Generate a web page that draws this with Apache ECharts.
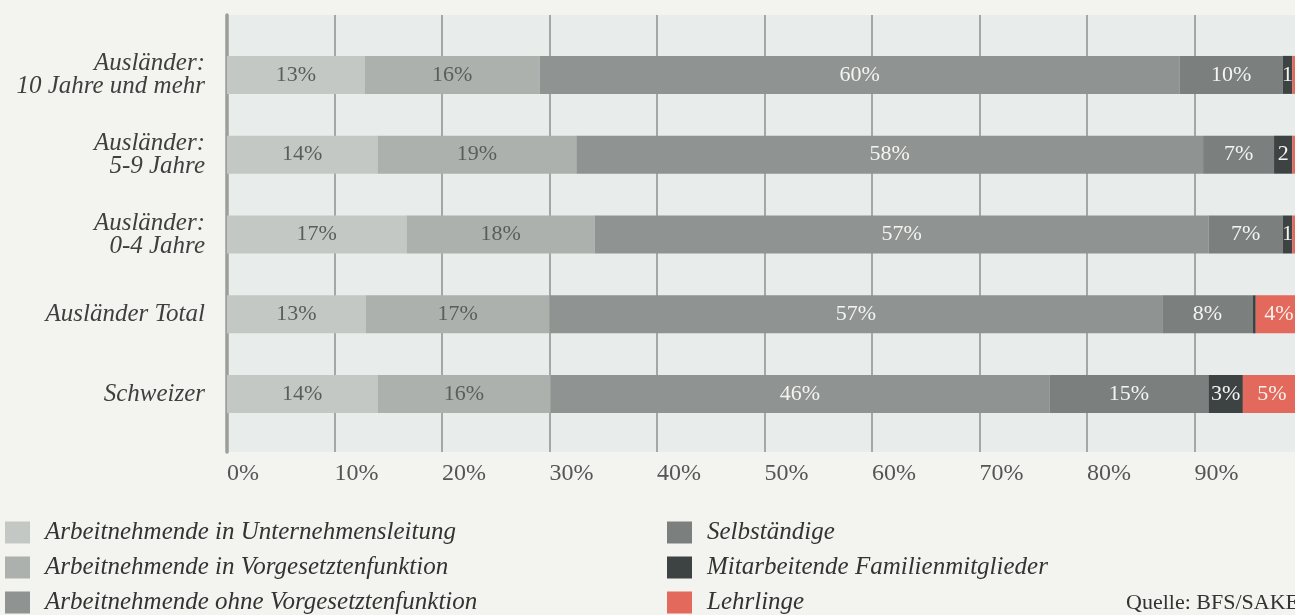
<!DOCTYPE html>
<html>
<head>
<meta charset="utf-8">
<script src="https://cdn.jsdelivr.net/npm/echarts@6/dist/echarts.min.js"></script>
<style>
  html, body { margin: 0; padding: 0; background: #f3f3f0; }
  #chart { width: 1295px; height: 615px; }
</style>
</head>
<body>
<div id="chart"></div>
<script>
// categories, top to bottom
const categories = [
  "Ausländer:\n10 Jahre und mehr",
  "Ausländer:\n5-9 Jahre",
  "Ausländer:\n0-4 Jahre",
  "Ausländer Total",
  "Schweizer",
];
// shares in %
const leitung = [12.8, 14.0, 16.7, 12.9, 14.0];
const vorgesetzte = [16.3, 18.5, 17.5, 17.1, 16.1];
const ohneVorgesetzte = [59.5, 58.3, 57.1, 57.0, 46.4];
const selbstaendige = [9.6, 6.6, 6.9, 8.4, 14.8];
const familie = [0.9, 1.7, 0.9, 0.3, 3.2];
const lehrlinge = [0.9, 0.9, 0.9, 4.3, 5.4];
const xTicks = [0, 100, 10];

const seriesNames = [
  "Arbeitnehmende in Unternehmensleitung",
  "Arbeitnehmende in Vorgesetztenfunktion",
  "Arbeitnehmende ohne Vorgesetztenfunktion",
  "Selbständige",
  "Mitarbeitende Familienmitglieder",
  "Lehrlinge",
];
const seriesData = [leitung, vorgesetzte, ohneVorgesetzte, selbstaendige, familie, lehrlinge];
const colors = ["#c4c8c5", "#adb1ae", "#8f9391", "#7b807e", "#3d4343", "#e2695b"];
const labelColors = ["#5a5d5b", "#5a5d5b", "#f4f4f2", "#f4f4f2", "#f4f4f2", "#f8f0ee"];

const serif = "Liberation Serif";

function pctLabel(minShow) {
  return function (p) {
    const v = p.value;
    if (v < minShow) return "";
    // narrow segments: the % sign is cut off in the original
    if (v < 2.5) return String(Math.round(v));
    return Math.round(v) + "%";
  };
}

// two legend columns, three rows each -> one legend per entry
const legends = seriesNames.map((name, i) => ({
  data: [name],
  left: i < 3 ? 5 : 667,
  top: 520 + (i % 3) * 35,
  padding: 0,
  icon: "rect",
  itemWidth: 25,
  itemHeight: 22,
  selectedMode: false,
  textStyle: {
    fontFamily: serif,
    fontStyle: "italic",
    fontSize: 25,
    color: "#333",
    padding: [0, 0, 0, 10],
  },
}));

const chart = echarts.init(document.getElementById("chart"));

chart.setOption({
  animation: false,
  backgroundColor: "#f3f3f0",
  color: colors,
  grid: [
    // gridlines + tick labels
    {
      left: 227, right: -7, top: 15, bottom: 163,
      outerBoundsMode: "none",
      show: true, backgroundColor: "#e8ecea", borderWidth: 0,
    },
    // bars
    { left: 227, right: -7, top: 35, bottom: 181, outerBoundsMode: "none" },
  ],
  xAxis: [
    {
      gridIndex: 0,
      type: "value",
      min: xTicks[0],
      max: xTicks[1],
      interval: xTicks[2],
      axisLine: { show: false },
      axisTick: { show: false },
      splitLine: { show: true, lineStyle: { color: "#8e918f", width: 1.5 } },
      axisLabel: {
        formatter: "{value}%",
        align: "left",
        margin: 10,
        color: "#555",
        fontFamily: serif,
        fontSize: 24,
      },
    },
    {
      gridIndex: 1,
      type: "value",
      min: xTicks[0],
      max: xTicks[1],
      show: false,
    },
  ],
  yAxis: [
    {
      gridIndex: 0,
      type: "value",
      axisLine: { show: true, lineStyle: { color: "#9c9e9c", width: 3.5 } },
      axisTick: { show: false },
      axisLabel: { show: false },
      splitLine: { show: false },
    },
    {
      gridIndex: 1,
      type: "category",
      inverse: true,
      data: categories,
      axisLine: { show: false },
      axisTick: { show: false },
      axisLabel: {
        margin: 22,
        color: "#3f3f3f",
        fontFamily: serif,
        fontStyle: "italic",
        fontSize: 25,
        lineHeight: 23,
      },
    },
  ],
  legend: legends,
  graphic: [
    {
      type: "text",
      left: 1126,
      top: 592,
      style: { text: "Quelle: BFS/SAKE", font: '22px "Liberation Serif"', fill: "#333" },
    },
  ],
  series: seriesNames.map((name, i) => ({
    name: name,
    type: "bar",
    stack: "total",
    xAxisIndex: 1,
    yAxisIndex: 1,
    barWidth: 38,
    data: seriesData[i],
    itemStyle: { color: colors[i] },
    label: {
      show: true,
      position: "inside",
      color: labelColors[i],
      fontFamily: serif,
      fontSize: 22,
      formatter: pctLabel(i === 5 ? 2 : 0.5),
    },
  })),
});
</script>
</body>
</html>
